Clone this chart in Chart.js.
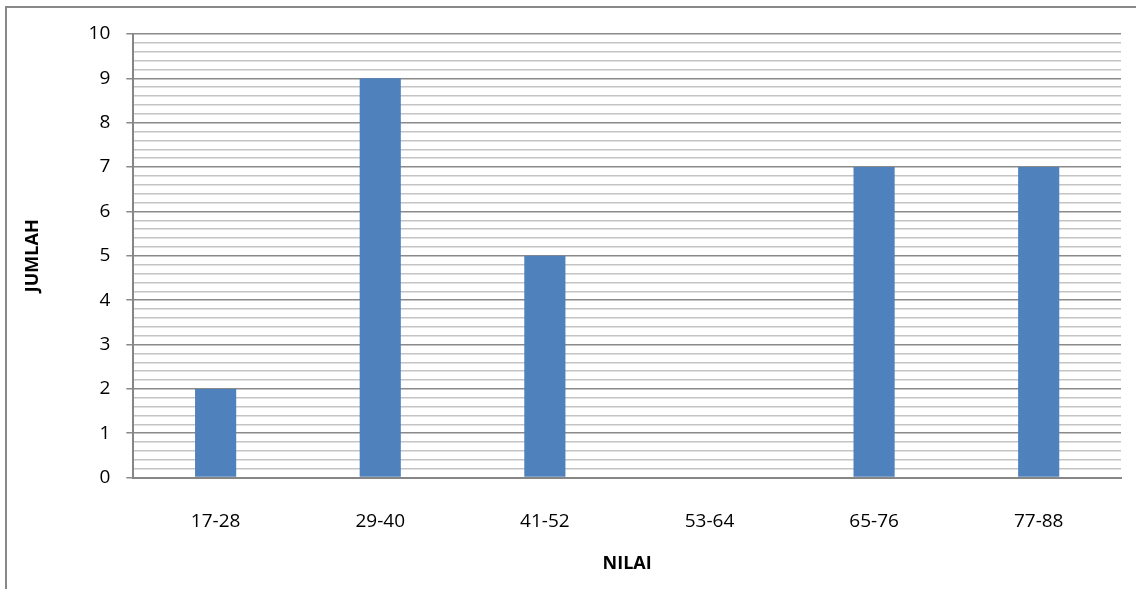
<!DOCTYPE html>
<html>
<head>
<meta charset="UTF-8">
<title>Nilai</title>
<script src="https://cdn.jsdelivr.net/npm/chart.js"></script>
<style>
    body { margin: 0; background: #fff; }
    .bingkai { position: absolute; left: 5px; top: 6px; width: 1140px; height: 600px; border-left: 2px solid #888; border-top: 2px solid #888; }
    .kotak { position: absolute; left: 0; top: 0; width: 1136px; height: 589px; }
</style>
</head>
<body>
<div class="bingkai"></div>
<div class="kotak"><canvas id="grafik"></canvas></div>
<script>
    // data
    var kategori = ['17-28', '29-40', '41-52', '53-64', '65-76', '77-88'];
    var jumlah = [2, 9, 5, 0, 7, 7];
    var judulX = 'NILAI';
    var judulY = 'JUMLAH';

    function bulat(v) {
        return Math.abs(v - Math.round(v)) < 1e-6;
    }

    new Chart(document.getElementById('grafik'), {
        type: 'bar',
        data: {
            labels: kategori,
            datasets: [{
                data: jumlah,
                backgroundColor: '#4F81BD',
                categoryPercentage: 1,
                barPercentage: 0.25
            }]
        },
        options: {
            responsive: true,
            maintainAspectRatio: false,
            animation: false,
            layout: { padding: { left: 18, right: 15, top: 34, bottom: 14 } },
            plugins: { legend: { display: false }, tooltip: { enabled: false } },
            scales: {
                x: {
                    grid: { display: false, drawTicks: false },
                    border: { color: '#868686', width: 2 },
                    ticks: { color: '#000', font: { family: 'Open Sans', size: 19 }, padding: 33 },
                    title: { display: true, text: judulX, color: '#000', font: { family: 'Open Sans', size: 18, weight: 'bold' }, padding: { top: -13, bottom: 0 } }
                },
                y: {
                    min: 0, max: 10,
                    ticks: {
                        stepSize: 0.2,
                        autoSkip: false,
                        color: '#000',
                        font: { family: 'Open Sans', size: 19 },
                        padding: 16,
                        callback: function (v) { return bulat(v) ? Math.round(v) : ''; }
                    },
                    grid: {
                        color: function (c) { return bulat(c.tick.value) ? '#8a8a8a' : '#c4c4c4'; },
                        tickColor: function (c) { return bulat(c.tick.value) ? '#8a8a8a' : 'rgba(0,0,0,0)'; },
                        tickLength: 7,
                        lineWidth: 1.5
                    },
                    border: { color: '#868686', width: 2 },
                    title: { display: true, text: judulY, color: '#000', font: { family: 'Open Sans', size: 18, weight: 'bold' }, padding: { bottom: 29 } }
                }
            }
        }
    });
</script>
</body>
</html>
